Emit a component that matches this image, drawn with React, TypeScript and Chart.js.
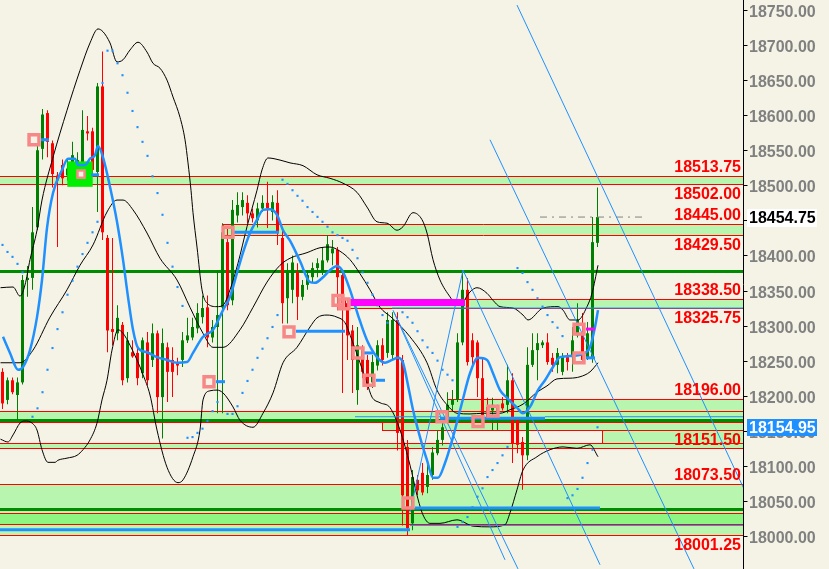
import React, { useEffect, useRef } from "react";
import { Chart, registerables } from "chart.js";

Chart.register(...registerables);

// ---------- colours ----------
const BG = "#F5F3E6";
const LIGHT = "#B8F5AE";
const BRIGHT = "#8EF580";
const RED = "#FF0000";
const CGREEN = "#008000";
const DKGREEN = "#008C00";
const BLUE = "#1E90FF";
const PINK = "#F88888";
const MAGENTA = "#FF00FF";
const FONT = 'bold 16px "Liberation Sans", Arial, sans-serif';

// ---------- candles ----------
const opens = [18234,18194,18222,18201,18219,18365,18368,18440,18552,18603,
18560,18514,18529,18514,18529,18524,18533,18577,18577,18519,
18641,18425,18295,18289,18301,18225,18262,18261,18232,18276,
18251,18289,18198,18269,18251,18248,18251,18279,18283,18296,
18312,18326,18283,18298,18326,18419,18336,18457,18469,18475,
18460,18450,18467,18475,18462,18475,18425,18339,18351,18376,
18341,18358,18369,18382,18376,18393,18403,18408,18372,18332,
18293,18208,18265,18251,18219,18243,18272,18261,18258,18308,
18251,18127,18018,18080,18090,18070,18087,18118,18137,18165,
18187,18194,18276,18351,18279,18276,18225,18184,18179,18175,
18189,18187,18222,18168,18134,18115,18244,18265,18272,18276,
18254,18244,18234,18255,18255,18286,18289,18255,18255,18418];
const highs = [18239,18226,18226,18226,18372,18385,18469,18560,18609,18607,
18564,18519,18537,18536,18562,18547,18607,18599,18582,18646,
18691,18429,18425,18329,18305,18291,18279,18272,18283,18291,
18303,18293,18296,18276,18269,18254,18291,18311,18311,18332,
18343,18343,18308,18379,18446,18439,18479,18490,18490,18486,
18467,18475,18486,18505,18486,18493,18436,18389,18400,18389,
18365,18379,18390,18396,18412,18429,18422,18412,18379,18339,
18301,18298,18272,18258,18258,18279,18282,18319,18319,18319,
18258,18137,18094,18087,18104,18108,18127,18151,18162,18205,
18208,18289,18379,18368,18289,18279,18255,18197,18197,18187,
18198,18244,18232,18169,18141,18269,18289,18289,18279,18289,
18261,18268,18261,18261,18298,18332,18318,18305,18455,18497];
const lows = [18181,18188,18202,18165,18216,18341,18351,18436,18537,18540,
18497,18412,18500,18507,18522,18519,18529,18564,18514,18462,
18422,18262,18272,18279,18215,18219,18254,18215,18225,18215,
18241,18175,18139,18191,18198,18229,18241,18275,18279,18289,
18303,18269,18276,18175,18175,18322,18329,18447,18457,18446,
18447,18440,18462,18439,18450,18415,18303,18303,18332,18308,
18336,18351,18362,18369,18372,18390,18386,18322,18204,18251,
18204,18187,18225,18208,18211,18236,18243,18254,18251,18122,
18015,18001,18008,18058,18058,18061,18080,18115,18129,18161,
18179,18191,18272,18243,18241,18198,18165,18165,18151,18151,
18179,18175,18104,18118,18066,18108,18241,18222,18268,18244,
18234,18232,18229,18236,18234,18283,18247,18251,18247,18412];
const closes = [18189,18222,18205,18219,18365,18368,18433,18550,18601,18562,
18516,18507,18510,18524,18543,18536,18579,18574,18522,18641,
18433,18293,18291,18311,18222,18279,18256,18225,18279,18222,
18289,18198,18275,18234,18234,18243,18279,18286,18298,18318,
18325,18283,18298,18315,18433,18329,18465,18472,18479,18460,
18453,18467,18475,18467,18476,18432,18332,18375,18390,18341,
18358,18372,18382,18389,18393,18416,18410,18369,18332,18286,
18251,18272,18234,18215,18248,18272,18251,18308,18308,18147,
18058,18011,18084,18065,18062,18087,18119,18137,18155,18187,
18194,18276,18351,18248,18255,18225,18169,18169,18187,18184,
18182,18222,18132,18130,18115,18244,18265,18275,18276,18248,
18244,18261,18255,18248,18279,18308,18251,18289,18419,18454.75];

// ---------- indicators (bar index, price) ----------
const bbUpper: [number, number][] = [[-0.4,18354],[2.1,18355],[3.5,18342],[4.5,18358],[5.5,18394],[6.9,18436],[7.9,18479],[10.1,18540],[12.9,18607],[15.5,18664],[17.5,18703],[19.1,18723],[20.1,18719],[21.5,18703],[22.9,18676],[24.1,18679],[25.5,18693],[27.1,18704],[28.9,18690],[30.1,18674],[31.5,18667],[32.9,18650],[34.1,18626],[35.5,18597],[36.5,18565],[37.1,18532],[37.7,18493],[38.1,18461],[38.9,18412],[39.9,18351],[40.9,18332],[42.9,18327],[44.1,18329],[45.5,18351],[47.1,18389],[48.9,18441],[50.9,18493],[51.9,18522],[53.1,18539],[55.5,18536],[57.5,18532],[60.1,18528],[62.9,18515],[65.5,18510],[68.1,18503],[70.9,18490],[72.9,18469],[74.9,18448],[76.9,18446],[78.9,18436],[80.1,18441],[82.1,18461],[83.9,18451],[84.9,18432],[86.1,18394],[87.5,18365],[89.5,18341],[90.9,18329],[92.1,18334],[93.5,18348],[94.9,18354],[96.9,18346],[98.1,18336],[99.5,18327],[102.1,18325],[104.1,18315],[105.1,18308],[108.1,18325],[111.1,18327],[112.1,18322],[113.5,18308],[115.1,18308],[116.9,18327],[117.9,18346],[119.1,18386]];
const bbMiddle: [number, number][] = [[-0.4,18247],[3.5,18247],[6.1,18265],[9.5,18312],[12.9,18351],[15.5,18386],[18.1,18415],[20.9,18462],[22.9,18479],[24.1,18479],[26.1,18465],[28.9,18432],[31.5,18396],[34.9,18365],[37.5,18326],[40.1,18289],[42.1,18269],[44.1,18269],[47.5,18294],[50.1,18326],[52.9,18362],[55.5,18386],[57.5,18396],[60.9,18404],[63.5,18411],[65.5,18412],[67.5,18406],[69.5,18394],[71.5,18374],[73.5,18351],[75.5,18326],[77.9,18311],[81.5,18284],[84.9,18247],[86.9,18208],[88.9,18187],[90.9,18175],[93.5,18174],[96.1,18175],[99.5,18175],[101.5,18180],[104.1,18188],[106.9,18205],[108.9,18214],[110.9,18224],[113.5,18225],[115.5,18227],[117.5,18234],[119.1,18247]];
const bbLower: [number, number][] = [[-0.4,18138],[1.1,18134],[2.1,18144],[3.5,18161],[4.5,18164],[5.9,18161],[6.9,18151],[7.9,18123],[9.1,18105],[10.5,18105],[11.1,18108],[12.9,18111],[14.9,18115],[16.1,18123],[17.5,18137],[18.9,18161],[19.9,18194],[20.9,18222],[21.9,18265],[23.1,18294],[24.1,18289],[25.5,18272],[26.9,18251],[28.1,18230],[29.5,18201],[30.9,18151],[32.9,18098],[35.1,18076],[36.1,18080],[38.1,18113],[39.5,18151],[40.1,18194],[41.5,18207],[42.9,18208],[44.1,18204],[46.1,18184],[47.5,18165],[50.1,18155],[52.1,18175],[54.1,18204],[56.1,18247],[58.9,18269],[61.5,18298],[62.9,18311],[64.9,18315],[66.9,18312],[68.5,18304],[69.9,18279],[71.5,18247],[72.9,18218],[73.9,18198],[75.5,18190],[77.5,18183],[79.5,18151],[81.5,18101],[82.9,18058],[84.1,18030],[85.5,18018],[87.5,18018],[90.9,18023],[94.1,18014],[97.5,18013],[100.5,18016],[101.5,18033],[102.9,18066],[104.1,18094],[106.9,18113],[109.5,18123],[112.1,18127],[114.9,18125],[117.5,18130],[119.1,18113]];
const emaLine: [number, number][] = [[0.1,18284],[1.5,18261],[3.1,18237],[4.1,18241],[5.5,18265],[6.9,18312],[7.9,18365],[8.9,18439],[10.1,18489],[11.9,18522],[13.1,18538],[14.5,18538],[15.1,18529],[16.5,18529],[17.5,18538],[18.5,18543],[19.1,18556],[20.1,18540],[21.5,18498],[22.9,18448],[24.1,18394],[25.1,18341],[26.1,18294],[27.1,18268],[28.9,18262],[30.9,18255],[32.9,18251],[34.9,18247],[36.9,18248],[38.1,18261],[40.1,18284],[42.1,18294],[44.1,18322],[45.5,18341],[46.9,18375],[48.1,18404],[49.5,18432],[50.9,18451],[52.1,18465],[53.5,18466],[54.9,18458],[56.1,18436],[57.5,18421],[59.5,18392],[61.5,18362],[62.5,18361],[64.1,18369],[65.5,18379],[66.9,18385],[67.9,18379],[69.5,18351],[71.1,18315],[72.9,18279],[74.9,18255],[76.5,18247],[77.9,18251],[79.1,18254],[80.1,18247],[81.1,18215],[82.1,18180],[83.5,18141],[84.9,18108],[86.1,18083],[87.1,18083],[88.5,18104],[90.1,18141],[91.9,18190],[93.5,18232],[95.1,18254],[96.9,18251],[98.1,18232],[99.5,18208],[100.9,18197],[102.9,18183],[104.1,18175],[105.5,18184],[107.1,18208],[108.5,18222],[110.1,18241],[111.5,18255],[114.1,18257],[116.5,18261],[117.5,18269],[118.5,18298],[119.1,18322]];
const sarValues: (number | null)[] = [18415,18405,18398,18388,18376,null,18170,18182,18205,18237,
18268,18295,18319,18344,18364,18384,18402,18418,18433,18448,
18646,18692,18692,18674,18657,18632,18606,18583,18562,18542,
18513,18489,18458,18418,18384,18355,18328,18140,18141,18147,
18153,18164,18178,18191,null,18174,18174,18185,18204,18221,
18237,18254,18267,18282,18298,18315,18508,18502,18493,18485,
18478,18469,18462,18455,18448,18441,18433,18429,18425,18421,
18408,18396,18376,18361,18344,18329,18315,18304,null,null,
18319,18312,18304,18292,18279,18269,18261,18250,18237,18230,
18222,18013,18020,18027,18041,18056,18068,18084,18094,18104,
18115,18127,null,18382,18375,18362,18351,18339,18327,18315,
18305,18297,18285,18054,18058,18067,18083,18104,18123,18155];

// ---------- horizontal zones / levels ----------
const zoneTop = [18513.75, 18445, 18338.5, 18196, 18178.5, 18162, 18151.5, 18132, 18073.5, 18033];
const zoneBottom = [18502, 18429.5, 18325.75, 18178.5, 18162, 18151.5, 18132, 18125, 18001.25, 18017];
const zoneStart = [-0.5, 44.1, 68.5, 88.9, -0.5, 76, 120, -0.5, -0.5, -0.5];
const zoneBright = [false, false, false, false, false, false, false, false, false, true];
const redLineValues = [18513.75, 18502, 18445, 18429.5, 18338.5, 18325.75, 18196, 18178.5, 18162, 18151.5, 18132, 18125, 18073.5, 18033, 18017, 18001.25];
const redLineStart = [-0.5, -0.5, 44.1, 44.1, 68.5, 68.5, 88.9, -0.5, -0.5, 76, -0.5, -0.5, -0.5, -0.5, -0.5, -0.5];
const darkGreenValues = [18378.3, 18165.5, 18038.5];
const redLabelValues = [18513.75, 18502, 18445, 18429.5, 18338.5, 18325.75, 18196, 18151.5, 18073.5, 18001.25];
const redLabelAbove = [true, false, true, false, true, false, true, false, true, false];
const yTicks = [18750, 18700, 18650, 18600, 18550, 18500, 18450, 18400, 18350, 18300, 18250, 18200, 18150, 18100, 18050, 18000];
const lastPrice = 18454.75;
const markerPrice = 18154.95;

// thick blue segments
const blueSegValue = [18565, 18515, 18220, 18433, 18292, 18261, 18222, 18254, 18009, 18040, 18168];
const blueSegFrom = [7.7, 17.7, 42.7, 46.3, 58.7, 72.3, 74.7, 116.7, -0.5, 82.5, 87.5];
const blueSegTo = [9.3, 19.3, 44.5, 55.3, 68.5, 74.1, 76.5, 118.5, 81.5, 119.5, 108.5];
// thin blue horizontals
const thinBlueValue = [18325, 18015, 18170, 18170];
const thinBlueFrom = [77.9, 81.5, 70.5, 108.5];
const thinBlueTo = [148.3, 148.3, 87.5, 148.3];
// channel lines
const chanFromIdx = [78.1, 78.3, 81.5, 92.1, 97.5, 102.9];
const chanFromVal = [18322, 18319, 18034, 18379, 18565, 18757];
const chanToIdx = [100.5, 103.1, 92.1, 119.5, 138.3, 148.3];
const chanToVal = [17966, 17953, 18379, 17959, 17953, 18067];
// magenta bars
const magValue = [18333, 18295];
const magFrom = [68.9, 116.7];
const magTo = [92.5, 118.5];
const magWidth = [7, 3];
// markers
const pinkIdx = [6.3, 41.3, 45.1, 57.3, 67.1, 68.3, 71.1, 73.3, 81.1, 87.9, 95.1, 98.1, 115.3, 115.3];
const pinkVal = [18565, 18220, 18433, 18291, 18336, 18331, 18261, 18222, 18047, 18170, 18163, 18178, 18295, 18254];
const greenBox: [number, number] = [15.5, 18516];
const smallPink: [number, number] = [15.7, 18516];

const X_MIN = -0.5;
const X_MAX = 148.3;
const Y_MIN = 17952.9;
const Y_MAX = 18764.26;

const seg = (x1: number, v1: number, x2: number, v2: number, color: string, width: number, order: number, dash: number[] = []) => ({
  type: "line",
  data: [{ x: x1, y: v1 }, { x: x2, y: v2 }],
  borderColor: color,
  borderWidth: width,
  borderCapStyle: "butt",
  borderDash: dash,
  pointRadius: 0,
  fill: false,
  order,
});

const bgPlugin = {
  id: "bgFill",
  beforeDraw(chart: any) {
    const ctx = chart.ctx;
    ctx.save();
    ctx.fillStyle = BG;
    ctx.fillRect(0, 0, chart.width, chart.height);
    ctx.restore();
  },
};

const zonesPlugin = {
  id: "zones",
  beforeDatasetsDraw(chart: any) {
    const { ctx, chartArea: a } = chart;
    const x = chart.scales.x;
    const y = chart.scales.y;
    ctx.save();
    zoneTop.forEach((t, k) => {
      const x0 = Math.max(a.left, Math.round(x.getPixelForValue(zoneStart[k])));
      const y0 = Math.round(y.getPixelForValue(t));
      const y1 = Math.round(y.getPixelForValue(zoneBottom[k]));
      ctx.fillStyle = zoneBright[k] ? BRIGHT : LIGHT;
      ctx.fillRect(x0, y0, a.right - x0, y1 - y0);
    });
    ctx.strokeStyle = RED;
    ctx.lineWidth = 1;
    redLineValues.forEach((v, k) => {
      const x0 = Math.max(a.left, Math.round(x.getPixelForValue(redLineStart[k])));
      const py = Math.round(y.getPixelForValue(v)) + 0.5;
      ctx.beginPath();
      ctx.moveTo(x0, py);
      ctx.lineTo(a.right, py);
      ctx.stroke();
    });
    zoneTop.forEach((t, k) => {
      if (zoneStart[k] > X_MIN) {
        const px = Math.round(x.getPixelForValue(zoneStart[k])) + 0.5;
        ctx.beginPath();
        ctx.moveTo(px, Math.round(y.getPixelForValue(t)) + 0.5);
        ctx.lineTo(px, Math.round(y.getPixelForValue(zoneBottom[k])) + 0.5);
        ctx.stroke();
      }
    });
    ctx.strokeStyle = DKGREEN;
    ctx.lineWidth = 3;
    darkGreenValues.forEach((v) => {
      const py = Math.round(y.getPixelForValue(v)) + 0.5;
      ctx.beginPath();
      ctx.moveTo(a.left, py);
      ctx.lineTo(a.right, py);
      ctx.stroke();
    });
    ctx.restore();
  },
};

const axisPlugin = {
  id: "rightAxis",
  afterDraw(chart: any) {
    const { ctx, chartArea: a } = chart;
    const y = chart.scales.y;
    ctx.save();
    ctx.font = FONT;
    ctx.textBaseline = "alphabetic";
    // red level labels
    ctx.fillStyle = RED;
    ctx.textAlign = "right";
    redLabelValues.forEach((v, k) => {
      const py = y.getPixelForValue(v);
      const base = redLabelAbove[k] ? py - 4 : py + 15;
      ctx.fillText(v.toFixed(2), a.right - 3, Math.round(base));
    });
    // axis line
    const ax = a.right - 0.5;
    ctx.strokeStyle = "#000000";
    ctx.lineWidth = 1;
    ctx.beginPath();
    ctx.moveTo(ax, 0);
    ctx.lineTo(ax, chart.height);
    ctx.stroke();
    // ticks and labels
    ctx.textAlign = "left";
    ctx.fillStyle = "#808080";
    yTicks.forEach((v) => {
      const py = Math.round(y.getPixelForValue(v)) + 0.5;
      ctx.beginPath();
      ctx.moveTo(ax, py);
      ctx.lineTo(ax + 4, py);
      ctx.stroke();
      ctx.fillText(v.toFixed(2), a.right + 5, Math.round(py + 6));
    });
    // last price box
    const lp = Math.round(y.getPixelForValue(lastPrice));
    ctx.fillStyle = "#FFFFFF";
    ctx.fillRect(a.right + 3, lp - 8, 70, 18);
    ctx.fillStyle = "#000000";
    ctx.fillText(lastPrice.toFixed(2), a.right + 5, lp + 6);
    // blue marker price box
    const mp = Math.round(y.getPixelForValue(markerPrice));
    ctx.fillStyle = BLUE;
    ctx.fillRect(a.right + 3, mp - 8, 70, 17);
    ctx.fillStyle = "#FFFFFF";
    ctx.fillText(markerPrice.toFixed(2), a.right + 5, mp + 6);
    ctx.restore();
  },
};

function buildConfig(): any {
  const idx = opens.map((_, i) => i);
  const candleColor = idx.map((i) => (closes[i] >= opens[i] ? CGREEN : RED));
  const toPts = (arr: [number, number][]) => arr.map(([x, y]) => ({ x, y }));
  const sarPts = sarValues
    .map((v, i) => (v === null ? null : { x: i, y: v }))
    .filter((p) => p !== null);

  const datasets: any[] = [];
  // markers on top
  datasets.push({
    type: "line",
    data: pinkIdx.map((x, k) => ({ x, y: pinkVal[k] })),
    showLine: false,
    pointStyle: "rect",
    pointRadius: 7,
    pointBorderWidth: 3.5,
    pointBorderColor: PINK,
    pointBackgroundColor: "rgba(0,0,0,0)",
    order: 0,
  });
  datasets.push({
    type: "line",
    data: [{ x: smallPink[0], y: smallPink[1] }],
    showLine: false,
    pointStyle: "rect",
    pointRadius: 5,
    pointBorderWidth: 2.5,
    pointBorderColor: PINK,
    pointBackgroundColor: BG,
    order: 0,
  });
  // thick blue segments
  blueSegValue.forEach((v, k) => datasets.push(seg(blueSegFrom[k], v, blueSegTo[k], v, BLUE, 3, 1)));
  // magenta bars
  magValue.forEach((v, k) => datasets.push(seg(magFrom[k], v, magTo[k], v, MAGENTA, magWidth[k], 1)));
  // EMA line
  datasets.push({
    type: "line",
    data: toPts(emaLine),
    borderColor: BLUE,
    borderWidth: 2.5,
    pointRadius: 0,
    cubicInterpolationMode: "monotone",
    fill: false,
    order: 2,
  });
  // green box
  datasets.push({
    type: "line",
    data: [{ x: greenBox[0], y: greenBox[1] }],
    showLine: false,
    pointStyle: "rect",
    pointRadius: 18,
    pointBorderWidth: 0,
    pointBackgroundColor: "#00EE00",
    pointBorderColor: "#00EE00",
    order: 3,
  });
  // SAR dots
  datasets.push({
    type: "line",
    data: sarPts,
    showLine: false,
    pointStyle: "rect",
    pointRadius: 1.5,
    pointBorderWidth: 0,
    pointBackgroundColor: BLUE,
    order: 4,
  });
  // channel lines
  chanFromIdx.forEach((x1, k) => datasets.push(seg(x1, chanFromVal[k], chanToIdx[k], chanToVal[k], BLUE, 1, 5)));
  thinBlueValue.forEach((v, k) => datasets.push(seg(thinBlueFrom[k], v, thinBlueTo[k], v, BLUE, 1, 5)));
  datasets.push(seg(107.5, lastPrice, 128.5, lastPrice, "#808080", 1, 5, [7, 5, 2, 5]));
  // Bollinger bands
  [bbUpper, bbMiddle, bbLower].forEach((band) =>
    datasets.push({
      type: "line",
      data: toPts(band),
      borderColor: "#000000",
      borderWidth: 1,
      pointRadius: 0,
      cubicInterpolationMode: "monotone",
      fill: false,
      order: 6,
    })
  );
  // candle bodies and wicks
  datasets.push({
    type: "bar",
    data: idx.map((i) => ({ x: i, y: [opens[i], closes[i]] })),
    backgroundColor: candleColor,
    borderWidth: 0,
    barThickness: 3,
    grouped: false,
    inflateAmount: 0,
    minBarLength: 1,
    order: 7,
  });
  datasets.push({
    type: "bar",
    data: idx.map((i) => ({ x: i, y: [lows[i], highs[i]] })),
    backgroundColor: candleColor,
    borderWidth: 0,
    barThickness: 1,
    grouped: false,
    inflateAmount: 0,
    order: 8,
  });

  return {
    type: "bar",
    data: { datasets },
    options: {
      responsive: false,
      animation: false,
      devicePixelRatio: 1,
      events: [],
      layout: { autoPadding: false, padding: { left: 0, top: 0, bottom: 0, right: 85 } },
      plugins: { legend: { display: false }, tooltip: { enabled: false }, title: { display: false } },
      scales: {
        x: { type: "linear", min: X_MIN, max: X_MAX, display: false, offset: false, grid: { display: false } },
        y: { type: "linear", min: Y_MIN, max: Y_MAX, display: false, grid: { display: false } },
      },
    },
    plugins: [bgPlugin, zonesPlugin, axisPlugin],
  };
}

export default function App() {
  const ref = useRef<HTMLCanvasElement | null>(null);
  useEffect(() => {
    document.body.style.margin = "0";
    const canvas = ref.current;
    if (!canvas) return;
    const chart = new Chart(canvas, buildConfig());
    return () => chart.destroy();
  }, []);
  return (
    <div style={{ position: "fixed", left: 0, top: 0, width: 829, height: 569, background: BG }}>
      <canvas ref={ref} width={829} height={569} style={{ display: "block", width: 829, height: 569 }} />
    </div>
  );
}
